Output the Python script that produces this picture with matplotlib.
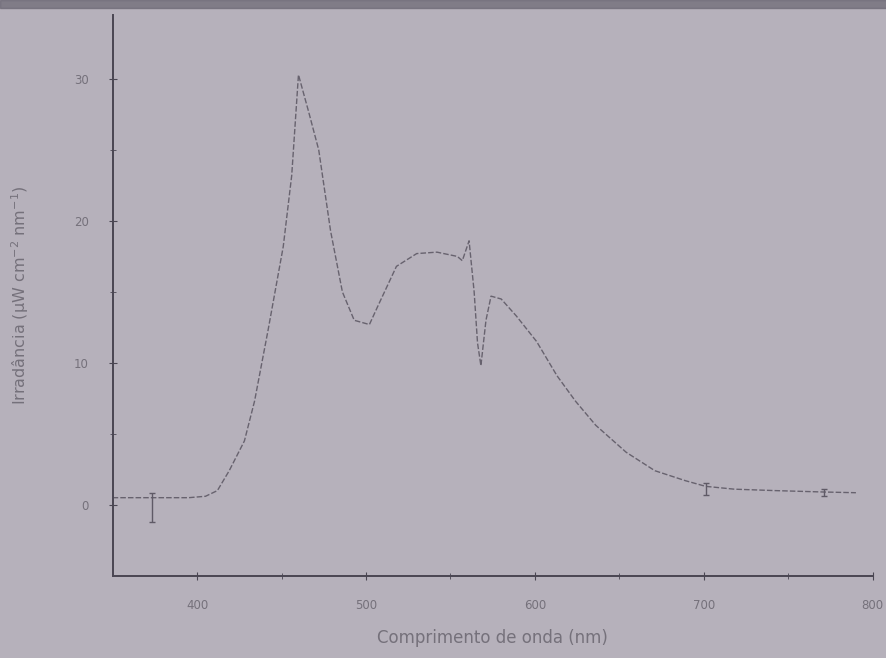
import matplotlib
matplotlib.use("Agg")
import matplotlib.pyplot as plt
from matplotlib.patches import Rectangle

# spectral irradiance of the lamp
wavelength = [350, 360, 373, 385, 395, 405, 412, 419, 428, 434, 442, 451, 456,
              460, 466, 472, 479, 486, 493, 502, 507, 518, 530, 542, 554, 557,
              561, 564, 566, 568, 571, 574, 580, 589, 601, 613, 624, 636, 654,
              671, 689, 701, 718, 742, 771, 790]
irradiance = [0.5, 0.5, 0.5, 0.5, 0.5, 0.6, 1.0, 2.4, 4.5, 7.3, 12.3, 18.2, 23.2,
              30.3, 27.7, 25.0, 19.3, 15.0, 13.0, 12.7, 14.0, 16.8, 17.7, 17.8,
              17.5, 17.2, 18.6, 15.0, 11.4, 9.8, 13.0, 14.7, 14.5, 13.3, 11.5,
              9.1, 7.3, 5.6, 3.7, 2.4, 1.7, 1.3, 1.1, 1.0, 0.9, 0.85]

# a few points carry visible error bars (lower, upper)
err_wl = [373, 701, 771]
err_val = [0.5, 1.3, 0.9]
err_low = [1.7, 0.6, 0.3]
err_up = [0.3, 0.2, 0.2]

ink = "#5f5a66"
paper = "#b6b1bb"

fig = plt.figure(figsize=(8.87, 6.58), dpi=100, facecolor=paper)
ax = fig.add_axes([0.127, 0.125, 0.857, 0.852])
ax.set_facecolor(paper)

ax.plot(wavelength, irradiance, color=ink, lw=1.0, ls=(0, (4, 1.5)), alpha=0.9)
ax.errorbar(err_wl, err_val, yerr=[err_low, err_up], fmt="none", ecolor=ink,
            elinewidth=1.0, capsize=2)

ax.set_xlim(350, 800)
ax.set_ylim(-5, 34.5)
ax.set_xticks([400, 500, 600, 700, 800])
ax.set_xticks([450, 550, 650, 750], minor=True)
ax.set_yticks([0, 10, 20, 30])
ax.set_yticks([5, 15, 25], minor=True)

for side in ["top", "right"]:
    ax.spines[side].set_visible(False)
for side in ["left", "bottom"]:
    ax.spines[side].set_color("#4a4652")
    ax.spines[side].set_linewidth(1.4)

ax.tick_params(which="both", direction="inout", colors="#4a4652",
               labelcolor="#75717b", labelsize=8.5)
ax.tick_params(which="major", length=6)
ax.tick_params(which="minor", length=4)
ax.tick_params(axis="x", pad=14)
ax.tick_params(axis="y", pad=14)

ax.set_xlabel("Comprimento de onda (nm)", fontsize=12, color="#75717b",
              labelpad=12)
ax.set_ylabel("Irradância (μW cm$^{-2}$ nm$^{-1}$)", fontsize=11.5,
              color="#75717b", labelpad=31)

# shadow along the top edge
fig.patches.append(Rectangle((0, 0.988), 1, 0.012, transform=fig.transFigure,
                             color="#6a6672", alpha=0.7, zorder=0))

fig.savefig("out.png", dpi=100, facecolor=paper)
